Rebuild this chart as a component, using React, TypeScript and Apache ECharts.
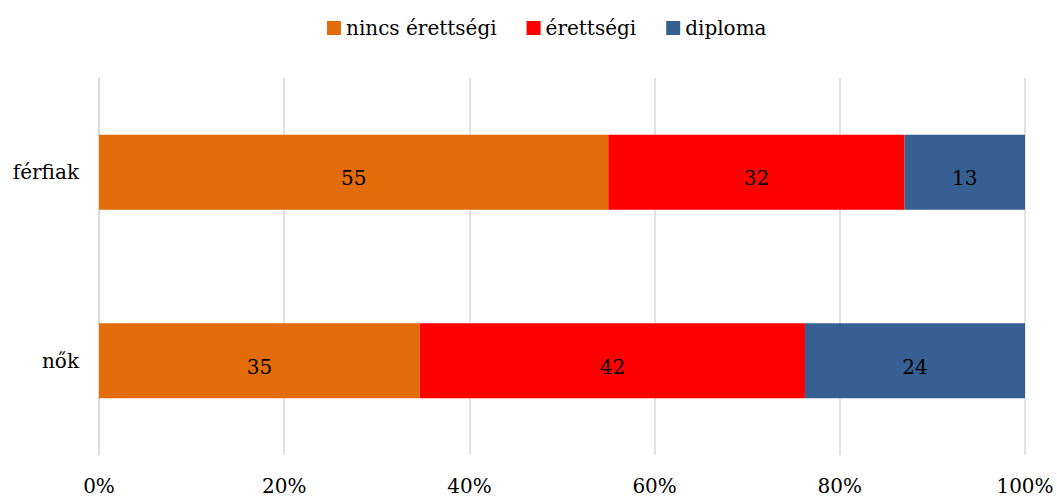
import React, { useEffect, useRef } from "react";
import * as echarts from "echarts";

const categories = ["nők", "férfiak"];
const seriesNames = ["nincs érettségi", "érettségi", "diploma"];
const nincsErettsegi = [35, 55];
const erettsegi = [42, 32];
const diploma = [24, 13];
const colors = ["#E36C0A", "#FF0000", "#376092"];
const tickLabels = ["0%", "20%", "40%", "60%", "80%", "100%"];

const FONT = "DejaVu Serif";

export default function App() {
  const ref = useRef<HTMLDivElement>(null);
  useEffect(() => {
    if (!ref.current) return;
    const chart = echarts.init(ref.current, null, { renderer: "svg" });
    const raw = [nincsErettsegi, erettsegi, diploma];
    const totals = categories.map((_, i) => raw.reduce((s, arr) => s + arr[i], 0));
    chart.setOption({
      animation: false,
      backgroundColor: "#fff",
      textStyle: { fontFamily: FONT },
      legend: {
        top: 13,
        left: 322,
        itemWidth: 14,
        itemHeight: 14,
        itemGap: 30,
        icon: "rect",
        textStyle: { fontFamily: FONT, fontSize: 20, color: "#000" },
        data: seriesNames,
      },
      grid: { left: 99, right: 32, top: 78, bottom: 43, containLabel: false },
      xAxis: {
        type: "value",
        min: 0,
        max: 100,
        interval: 20,
        axisLine: { show: false },
        axisTick: { show: false },
        splitLine: { show: true, lineStyle: { color: "#D9D9D9", width: 1.5 } },
        axisLabel: {
          margin: 21,
          fontFamily: FONT,
          fontSize: 20,
          color: "#000",
          formatter: (v: number) => tickLabels[Math.round(v / 20)],
        },
      },
      yAxis: {
        type: "category",
        data: categories,
        axisLine: { show: true, lineStyle: { color: "#D9D9D9", width: 1.5 } },
        axisTick: { show: false },
        axisLabel: { margin: 20, fontFamily: FONT, fontSize: 20, color: "#000" },
      },
      series: seriesNames.map((name, si) => ({
        name,
        type: "bar",
        stack: "total",
        barWidth: 75,
        itemStyle: { color: colors[si] },
        label: {
          show: true,
          position: "inside",
          offset: [0, 6],
          fontFamily: FONT,
          fontSize: 20,
          color: "#000",
          formatter: (p: any) => String(raw[si][p.dataIndex]),
        },
        data: raw[si].map((v, i) => (v / totals[i]) * 100),
      })),
    });
    return () => chart.dispose();
  }, []);
  return (
    <div
      ref={ref}
      style={{ position: "fixed", left: 0, top: 0, width: 1057, height: 498 }}
    />
  );
}
